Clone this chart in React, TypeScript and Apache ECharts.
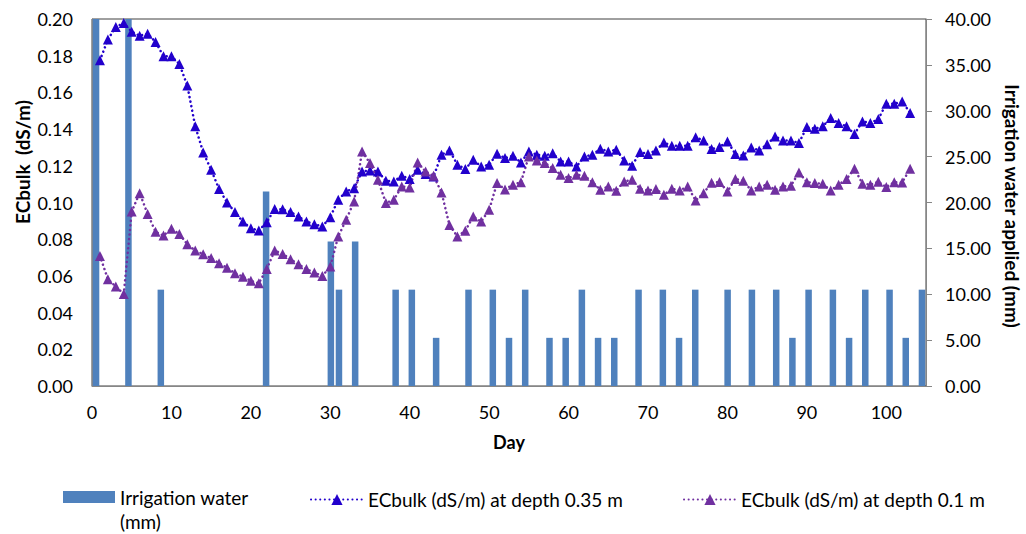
import React, { useEffect, useRef } from "react";
import * as echarts from "echarts";

const DAYS = [
  1, 2, 3, 4, 5, 6, 7, 8, 9, 10, 11, 12, 13, 14, 15, 16, 17, 18, 19, 20,
  21, 22, 23, 24, 25, 26, 27, 28, 29, 30, 31, 32, 33, 34, 35, 36, 37, 38, 39, 40,
  41, 42, 43, 44, 45, 46, 47, 48, 49, 50, 51, 52, 53, 54, 55, 56, 57, 58, 59, 60,
  61, 62, 63, 64, 65, 66, 67, 68, 69, 70, 71, 72, 73, 74, 75, 76, 77, 78, 79, 80,
  81, 82, 83, 84, 85, 86, 87, 88, 89, 90, 91, 92, 93, 94, 95, 96, 97, 98, 99, 100,
  101, 102, 103,
];

const EC_DEPTH_035 = [
  0.1775, 0.1888, 0.1957, 0.1978, 0.1931, 0.1909, 0.192, 0.1875, 0.1797, 0.1797,
  0.1755, 0.1637, 0.1415, 0.1273, 0.1178, 0.1073, 0.1, 0.0948, 0.0896, 0.086,
  0.0847, 0.0893, 0.0964, 0.0963, 0.0948, 0.0924, 0.0896, 0.0882, 0.0869, 0.092,
  0.1015, 0.106, 0.1078, 0.1169, 0.1175, 0.1169, 0.1118, 0.1115, 0.1146, 0.1128,
  0.1178, 0.1155, 0.1142, 0.126, 0.1284, 0.1206, 0.1182, 0.1233, 0.1196, 0.1206,
  0.1266, 0.1242, 0.1255, 0.1218, 0.1278, 0.126, 0.1255, 0.1269, 0.1224, 0.1224,
  0.1196, 0.1251, 0.126, 0.1293, 0.1278, 0.1288, 0.1229, 0.12, 0.1275, 0.1264,
  0.1284, 0.1327, 0.1309, 0.1309, 0.1309, 0.1355, 0.1338, 0.1291, 0.1302, 0.1333,
  0.1264, 0.1256, 0.13, 0.1284, 0.1318, 0.136, 0.1338, 0.1338, 0.1324, 0.1411,
  0.1402, 0.1415, 0.146, 0.1433, 0.1415, 0.1373, 0.1442, 0.1433, 0.1455, 0.1538,
  0.1538, 0.1551, 0.1488,
];

const EC_DEPTH_010 = [
  0.0709, 0.0582, 0.0542, 0.0502, 0.0951, 0.1051, 0.0938, 0.084, 0.082, 0.0857,
  0.0828, 0.0773, 0.0738, 0.0718, 0.0697, 0.0669, 0.0645, 0.0615, 0.0596, 0.0573,
  0.056, 0.0637, 0.0738, 0.072, 0.0691, 0.0663, 0.0637, 0.0618, 0.06, 0.0651,
  0.0815, 0.0906, 0.1005, 0.1278, 0.1215, 0.1124, 0.0997, 0.1015, 0.1087, 0.1082,
  0.1218, 0.1169, 0.1146, 0.1055, 0.0878, 0.0815, 0.0846, 0.0924, 0.0896, 0.096,
  0.1106, 0.1071, 0.1097, 0.1111, 0.1251, 0.1229, 0.1215, 0.1188, 0.1151, 0.1133,
  0.1151, 0.1146, 0.1111, 0.1069, 0.1087, 0.1064, 0.1115, 0.1124, 0.1075, 0.1066,
  0.1073, 0.1042, 0.1075, 0.1066, 0.1087, 0.1011, 0.1051, 0.1108, 0.1112, 0.106,
  0.1128, 0.1118, 0.1066, 0.1087, 0.1097, 0.1069, 0.1087, 0.1091, 0.1164, 0.1111,
  0.1106, 0.1102, 0.1066, 0.1097, 0.1128, 0.1184, 0.1102, 0.1097, 0.1113, 0.1084,
  0.1111, 0.1109, 0.1184,
];

const IRRIGATION_DAYS = [
  1, 5, 9, 22, 30, 31, 33, 38, 40, 43, 47, 50, 52, 54, 57, 59, 61, 63, 65, 68,
  71, 73, 75, 79, 82, 85, 87, 89, 92, 94, 96, 99, 101, 103,
];
const IRRIGATION_MM = [
  42, 42, 10.5, 21.2, 15.75, 10.5, 15.75, 10.5, 10.5, 5.25, 10.5, 10.5, 5.25, 10.5,
  5.25, 5.25, 10.5, 5.25, 5.25, 10.5, 10.5, 5.25, 10.5, 10.5, 10.5, 10.5, 5.25,
  10.5, 10.5, 5.25, 10.5, 10.5, 5.25, 10.5,
];

const X_TICKS = [0, 10, 20, 30, 40, 50, 60, 70, 80, 90, 100];

const BAR_NAME = "Irrigation water (mm)";
const BLUE_NAME = "ECbulk (dS/m) at depth 0.35 m";
const PURPLE_NAME = "ECbulk (dS/m) at depth 0.1 m";

const FONT = "Lato, 'Open Sans', sans-serif";
const BLUE = "#2200CC";
const PURPLE = "#7030A0";
const BAR = "#4F81BD";
const AXIS = "#868686";

export default function App() {
  const ref = useRef<HTMLDivElement>(null);

  useEffect(() => {
    if (!ref.current) return;
    const chart = echarts.init(ref.current, undefined, { renderer: "svg" });

    const barData = DAYS.map((d) => {
      const i = IRRIGATION_DAYS.indexOf(d);
      return i >= 0 ? IRRIGATION_MM[i] : 0;
    });
    const blueData = DAYS.map((d, i) => [d, EC_DEPTH_035[i]]);
    const purpleData = DAYS.map((d, i) => [d, EC_DEPTH_010[i]]);

    const lineCommon = {
      type: "line" as const,
      xAxisIndex: 0,
      yAxisIndex: 0,
      symbol: "triangle",
      symbolSize: 10,
      smooth: false,
    };

    const legendText = { fontFamily: FONT, fontSize: 19, color: "#000" };

    chart.setOption({
      animation: false,
      backgroundColor: "#fff",
      textStyle: { fontFamily: FONT },
      grid: {
        left: 92,
        right: 100,
        top: 19,
        bottom: 148,
        show: true,
        borderColor: "#404040",
        borderWidth: 1,
        containLabel: false,
      },
      legend: [
        {
          data: [BAR_NAME],
          left: 63,
          top: 461,
          padding: 0,
          itemWidth: 52,
          itemHeight: 12,
          icon: "rect",
          formatter: () => "\nIrrigation water\n(mm)",
          textStyle: { ...legendText, lineHeight: 24 },
        },
        {
          data: [BLUE_NAME],
          left: 310,
          top: 490,
          padding: 0,
          itemWidth: 52,
          itemHeight: 14,
          textStyle: { ...legendText, lineHeight: 14 },
        },
        {
          data: [PURPLE_NAME],
          left: 683,
          top: 490,
          padding: 0,
          itemWidth: 52,
          itemHeight: 14,
          textStyle: { ...legendText, lineHeight: 14 },
        },
      ],
      xAxis: [
        {
          type: "value",
          min: 0,
          max: 105,
          interval: 10,
          axisLine: { show: true, onZero: false, lineStyle: { color: AXIS, width: 1 } },
          axisTick: { show: false },
          splitLine: { show: false },
          axisLabel: {
            color: "#000",
            fontFamily: FONT,
            fontSize: 18,
            margin: 17,
            showMaxLabel: false,
            formatter: (v: number) => (X_TICKS.includes(v) ? String(v) : ""),
          },
          name: "Day",
          nameLocation: "middle",
          nameGap: 47,
          nameTextStyle: { fontFamily: FONT, fontSize: 18, fontWeight: "bold", color: "#000" },
        },
        {
          type: "category",
          data: DAYS.map(String),
          boundaryGap: true,
          show: false,
          position: "bottom",
        },
      ],
      yAxis: [
        {
          type: "value",
          min: 0,
          max: 0.2,
          interval: 0.02,
          position: "left",
          axisLine: { show: true, lineStyle: { color: AXIS, width: 1 } },
          axisTick: { show: false },
          splitLine: { show: false },
          axisLabel: {
            color: "#000",
            fontFamily: FONT,
            fontSize: 18,
            margin: 19,
            formatter: (v: number) => v.toFixed(2),
          },
        },
        {
          type: "value",
          min: 0,
          max: 40,
          interval: 5,
          position: "right",
          axisLine: { show: true, lineStyle: { color: AXIS, width: 1 } },
          axisTick: { show: true, inside: false, length: 6, lineStyle: { color: AXIS } },
          splitLine: { show: false },
          axisLabel: {
            color: "#000",
            fontFamily: FONT,
            fontSize: 18,
            margin: 19,
            formatter: (v: number) => v.toFixed(2),
          },
        },
      ],
      graphic: [
        {
          type: "text",
          x: 22,
          y: 162,
          rotation: Math.PI / 2,
          style: {
            text: "ECbulk  (dS/m)",
            fill: "#000",
            font: `bold 19px ${FONT}`,
            align: "center",
            verticalAlign: "middle",
          },
        },
        {
          type: "text",
          x: 1012,
          y: 206,
          rotation: -Math.PI / 2,
          style: {
            text: "Irrigation water applied (mm)",
            fill: "#000",
            font: `bold 19px ${FONT}`,
            align: "center",
            verticalAlign: "middle",
          },
        },
      ],
      series: [
        {
          name: BAR_NAME,
          type: "bar",
          xAxisIndex: 1,
          yAxisIndex: 1,
          data: barData,
          barWidth: 6.5,
          itemStyle: { color: BAR },
          clip: true,
        },
        {
          ...lineCommon,
          name: BLUE_NAME,
          data: blueData,
          itemStyle: { color: BLUE },
          lineStyle: { color: BLUE, width: 2.5, type: [0.1, 4.5], cap: "round" },
        },
        {
          ...lineCommon,
          name: PURPLE_NAME,
          data: purpleData,
          itemStyle: { color: PURPLE },
          lineStyle: { color: PURPLE, width: 2.5, type: [0.1, 4.5], cap: "round" },
        },
      ],
    });

    return () => chart.dispose();
  }, []);

  return (
    <div
      ref={ref}
      style={{ position: "absolute", left: 0, top: 0, width: 1026, height: 534 }}
    />
  );
}
